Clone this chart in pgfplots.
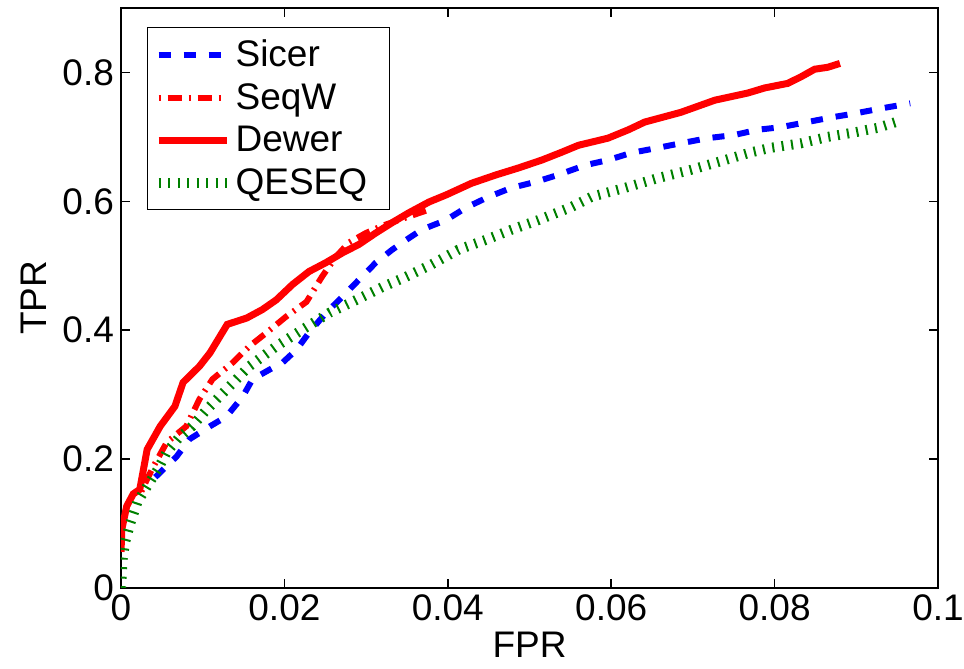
\documentclass[border=0pt]{standalone}
\usepackage{pgfplots}
\pgfplotsset{compat=1.18}
\usepackage{fontspec}
\setmainfont{Liberation Sans}
\definecolor{mblue}{rgb}{0,0,1}
\definecolor{mred}{rgb}{1,0,0}
\definecolor{mgreen}{rgb}{0,0.5,0}
\newcommand{\bigf}{\fontsize{18.5}{22}\selectfont}
\begin{document}
\begin{tikzpicture}
\begin{axis}[
  scale only axis,
  width=408.5pt, height=290pt,
  xmin=0, xmax=0.1, ymin=0, ymax=0.9,
  axis line style={line width=0.75pt},
  tick style={line width=0.75pt, black},
  tick align=inside,
  major tick length=4.5pt,
  xtick={0,0.02,0.04,0.06,0.08,0.1},
  xticklabels={0,0.02,0.04,0.06,0.08,0.1},
  ytick={0,0.2,0.4,0.6,0.8},
  yticklabels={0,0.2,0.4,0.6,0.8},
  scaled ticks=false,
  /pgf/number format/assume math mode=true,
  tick label style={font=\bigf},
  label style={font=\bigf},
  xlabel={FPR}, ylabel={TPR},
  xlabel style={yshift=1.5pt},
  ylabel style={yshift=1pt},
  legend cell align=left,
  legend style={at={(0.0318,0.967)}, anchor=north west, font=\bigf,
    draw=black, line width=0.6pt, inner xsep=3pt, inner ysep=4pt, row sep=3pt},
  legend image code/.code={\draw[#1] (0pt,0pt) -- (34pt,0pt);},
]
\addplot[mblue, line width=3pt, dash pattern=on 6pt off 6.5pt] coordinates {
(0.0042,0.172)(0.0068,0.204)(0.0084,0.231)(0.0109,0.251)(0.0129,0.266)
(0.0149,0.297)(0.0161,0.324)(0.0182,0.339)(0.0198,0.350)(0.0215,0.370)
(0.0230,0.396)(0.0251,0.427)(0.0271,0.452)(0.0291,0.478)(0.0312,0.505)
(0.0332,0.525)(0.0349,0.540)(0.0368,0.556)(0.0398,0.571)(0.0422,0.590)
(0.0450,0.607)(0.0478,0.621)(0.0507,0.630)(0.0535,0.641)(0.0568,0.656)
(0.0596,0.664)(0.0624,0.675)(0.0657,0.683)(0.0685,0.690)(0.0718,0.698)
(0.0751,0.703)(0.0779,0.711)(0.0807,0.715)(0.0840,0.723)(0.0873,0.731)
(0.0901,0.737)(0.0934,0.745)(0.0966,0.752)
};
\addlegendentry{Sicer}
\addplot[mred, line width=3pt, dash pattern=on 1pt off 3.5pt on 7pt off 3.5pt] coordinates {
(0.0025,0.150)(0.0032,0.169)(0.0039,0.187)(0.0056,0.226)(0.0080,0.251)
(0.0096,0.293)(0.0112,0.324)(0.0137,0.350)(0.0157,0.375)(0.0178,0.396)
(0.0202,0.421)(0.0227,0.444)(0.0246,0.483)(0.0263,0.514)(0.0279,0.536)
(0.0300,0.551)(0.0322,0.563)(0.0340,0.571)(0.0379,0.588)
};
\addlegendentry{SeqW}
\addplot[mred, line width=3.5pt] coordinates {
(0,0.056)(0.0001,0.091)(0.0007,0.127)(0.0015,0.146)(0.0023,0.153)
(0.0032,0.215)(0.0048,0.251)(0.0066,0.282)(0.0076,0.319)(0.0096,0.344)
(0.0109,0.365)(0.0130,0.409)(0.0154,0.419)(0.0173,0.432)(0.0190,0.447)
(0.0210,0.471)(0.0230,0.491)(0.0251,0.505)(0.0271,0.520)(0.0291,0.533)
(0.0312,0.551)(0.0332,0.567)(0.0352,0.582)(0.0377,0.599)(0.0398,0.610)
(0.0429,0.628)(0.0459,0.641)(0.0487,0.652)(0.0515,0.664)(0.0539,0.676)
(0.0560,0.687)(0.0596,0.698)(0.0621,0.711)(0.0641,0.723)(0.0685,0.738)
(0.0727,0.757)(0.0767,0.768)(0.0788,0.776)(0.0816,0.783)(0.0832,0.793)
(0.0849,0.805)(0.0865,0.808)(0.0880,0.814)
};
\addlegendentry{Dewer}
\addplot[mgreen, line width=5pt, dash pattern=on 1pt off 3.75pt] coordinates {
(0,0)(0.0001,0.019)(0.0002,0.045)(0.0005,0.071)(0.0011,0.099)
(0.0020,0.133)(0.0032,0.158)(0.0045,0.184)(0.0056,0.211)(0.0070,0.232)
(0.0087,0.251)(0.0105,0.277)(0.0129,0.308)(0.0157,0.344)(0.0190,0.375)
(0.0222,0.401)(0.0255,0.427)(0.0288,0.447)(0.0320,0.467)(0.0349,0.483)
(0.0380,0.502)(0.0413,0.525)(0.0446,0.540)(0.0478,0.556)(0.0511,0.571)
(0.0551,0.591)(0.0576,0.607)(0.0617,0.621)(0.0657,0.636)(0.0698,0.649)
(0.0739,0.664)(0.0771,0.676)(0.0795,0.683)(0.0832,0.690)(0.0865,0.700)
(0.0898,0.707)(0.0926,0.714)(0.0956,0.726)
};
\addlegendentry{QESEQ\hspace*{6pt}}
\end{axis}
\pgfresetboundingbox
\path[use as bounding box] (current axis.south west) ++(-60.5pt,-40.5pt) rectangle ([xshift=13pt,yshift=4pt]current axis.north east);
\end{tikzpicture}
\end{document}
